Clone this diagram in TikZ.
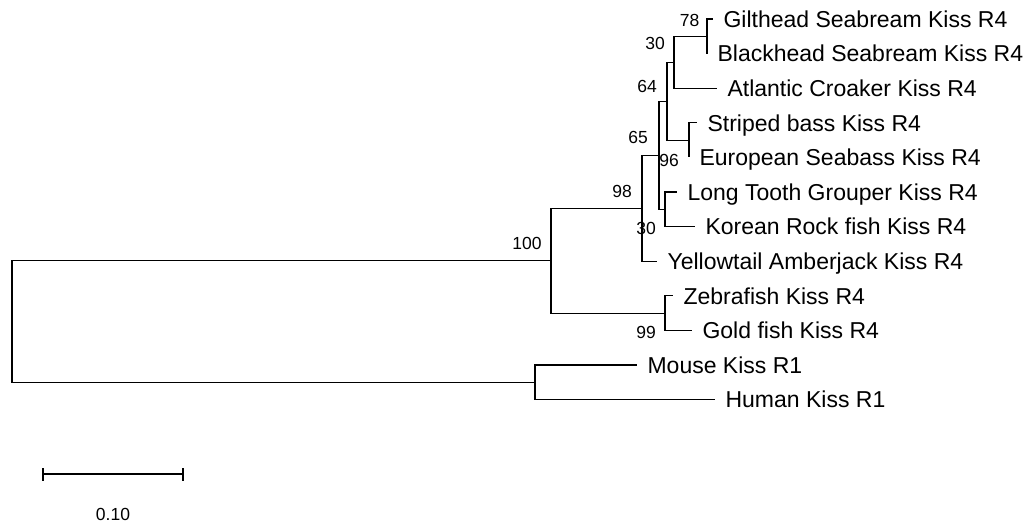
\documentclass[tikz,border=0pt]{standalone}
\usepackage{fontspec}
\setmainfont{Liberation Sans}
\usetikzlibrary{positioning}

\begin{document}
\begin{tikzpicture}[x=1pt, y=-1pt, line width=1.1pt,
	taxon/.style={inner sep=0pt, text height=16.5pt, text depth=0pt, font=\fontsize{23}{27}\selectfont},
	boot/.style={inner sep=0pt, text height=12.5pt, text depth=0pt, font=\fontsize{17.5}{21}\selectfont}]
	\useasboundingbox (0,0) rectangle (1031,527);

	% internal nodes
	\coordinate (root) at (12,321.5);
	\coordinate (n100) at (551,260.65);
	\coordinate (n98) at (642,208.2);
	\coordinate (n65) at (659,155.25);
	\coordinate (n64) at (667,101.2);
	\coordinate (n30a) at (674,62.25);
	\coordinate (n78) at (707,36.3);
	\coordinate (n96) at (689,140.1);
	\coordinate (n30b) at (665,209.3);
	\coordinate (n99) at (665,313.1);
	\coordinate (nmam) at (535,382.3);

	% tips
	\coordinate (t1) at (713,19);
	\coordinate (t2) at (707,53.6);
	\coordinate (t3) at (717,88.2);
	\coordinate (t4) at (697,122.8);
	\coordinate (t5) at (689,157.4);
	\coordinate (t6) at (677,192);
	\coordinate (t7) at (695,226.6);
	\coordinate (t8) at (657,261.2);
	\coordinate (t9) at (673,295.8);
	\coordinate (t10) at (692,330.4);
	\coordinate (t11) at (637,365);
	\coordinate (t12) at (715,399.6);

	\node [taxon, right=10pt of t1] (gilthead) {Gilthead Seabream Kiss R4};
	\node [taxon, right=10pt of t2] (blackhead) {Blackhead Seabream Kiss R4};
	\node [taxon, right=10pt of t3] (croaker) {Atlantic Croaker Kiss R4};
	\node [taxon, right=10pt of t4] (striped) {Striped bass Kiss R4};
	\node [taxon, right=10pt of t5] (seabass) {European Seabass Kiss R4};
	\node [taxon, right=10pt of t6] (grouper) {Long Tooth Grouper Kiss R4};
	\node [taxon, right=10pt of t7] (rockfish) {Korean Rock fish Kiss R4};
	\node [taxon, right=10pt of t8] (amberjack) {Yellowtail Amberjack Kiss R4};
	\node [taxon, right=10pt of t9] (zebrafish) {Zebrafish Kiss R4};
	\node [taxon, right=10pt of t10] (goldfish) {Gold fish Kiss R4};
	\node [taxon, right=10pt of t11] (mouse) {Mouse Kiss R1};
	\node [taxon, right=10pt of t12] (human) {Human Kiss R1};

	% branches
	\draw (root) |- (n100);
	\draw (root) |- (nmam);
	\draw (n100) |- (n98);
	\draw (n100) |- (n99);
	\draw (n98) |- (n65);
	\draw (n98) |- (t8);
	\draw (n65) |- (n64);
	\draw (n65) |- (n30b);
	\draw (n64) |- (n30a);
	\draw (n64) |- (n96);
	\draw (n30a) |- (n78);
	\draw (n30a) |- (t3);
	\draw (n78) |- (t1);
	\draw (n78) |- (t2);
	\draw (n96) |- (t4);
	\draw (n96) |- (t5);
	\draw (n30b) |- (t6);
	\draw (n30b) |- (t7);
	\draw (n99) |- (t9);
	\draw (n99) |- (t10);
	\draw (nmam) |- (t11);
	\draw (nmam) |- (t12);

	% bootstrap values
	\node [boot, anchor=east] (b78) at (700,20) {78};
	\node [boot] (b30a) at (655,43) {30};
	\node [boot] (b64) at (647,86) {64};
	\node [boot] (b65) at (638,137) {65};
	\node [boot] (b96) at (669,160) {96};
	\node [boot] (b98) at (622,191) {98};
	\node [boot] (b30b) at (646,228) {30};
	\node [boot] (b100) at (527,243) {100};
	\node [boot] (b99) at (646,332) {99};

	% scale bar
	\coordinate (sb0) at (43,474);
	\coordinate (sb1) at (183,474);
	\draw (sb0) -- (sb1);
	\draw ([yshift=-6.5pt]sb0) -- ([yshift=6.5pt]sb0);
	\draw ([yshift=-6.5pt]sb1) -- ([yshift=6.5pt]sb1);
	\node [boot] (scale) at (113,514) {0.10};
\end{tikzpicture}
\end{document}
